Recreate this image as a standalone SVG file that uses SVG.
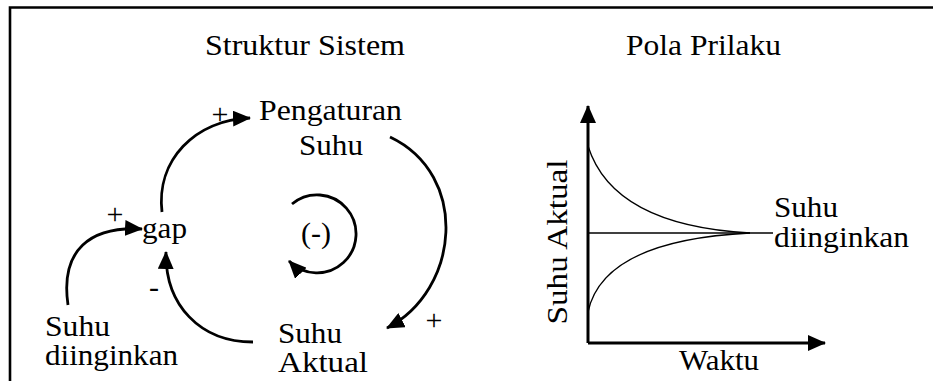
<svg xmlns="http://www.w3.org/2000/svg" width="933" height="381" viewBox="0 0 933 381" font-family="'Liberation Serif', 'DejaVu Serif', serif">
<style>
text{font-family:'Liberation Serif','DejaVu Serif',serif;font-size:30px;fill:#000}
.c{text-anchor:middle}
.arc{fill:none;stroke:#000;stroke-width:2.8}
.thin{fill:none;stroke:#000;stroke-width:1.3}
.axis{fill:none;stroke:#000;stroke-width:3}
</style>
<defs>
<marker id="ah" markerUnits="userSpaceOnUse" markerWidth="18" markerHeight="16" refX="17" refY="8" orient="auto">
<path d="M0,0 L18,8 L0,16 z" fill="#000"/>
</marker>
<marker id="ax" markerUnits="userSpaceOnUse" markerWidth="18" markerHeight="16" refX="17" refY="8" orient="auto">
<path d="M0,0 L18,8 L0,16 z" fill="#000"/>
</marker>
</defs>
<rect width="933" height="381" fill="#fff"/>
<path d="M10,381 V7.5 H933" fill="none" stroke="#000" stroke-width="2.6"/>
<text x="205" y="55" textLength="200" lengthAdjust="spacingAndGlyphs">Struktur Sistem</text>
<text x="626" y="55" textLength="155" lengthAdjust="spacingAndGlyphs">Pola Prilaku</text>
<g id="pengaturan-suhu"><text x="259" y="120" textLength="143" lengthAdjust="spacingAndGlyphs">Pengaturan</text><text x="299" y="155" textLength="64" lengthAdjust="spacingAndGlyphs">Suhu</text></g>
<g id="gap"><text x="142" y="238" textLength="45" lengthAdjust="spacingAndGlyphs">gap</text></g>
<g id="suhu-aktual"><text x="278" y="343" textLength="64" lengthAdjust="spacingAndGlyphs">Suhu</text><text x="278" y="372" textLength="90" lengthAdjust="spacingAndGlyphs">Aktual</text></g>
<g id="suhu-diinginkan"><text x="45" y="336" textLength="65" lengthAdjust="spacingAndGlyphs">Suhu</text><text x="45" y="365" textLength="133" lengthAdjust="spacingAndGlyphs">diinginkan</text></g>
<g id="loop"><text class="c" x="316" y="243">(-)</text></g>
<g id="connectors">
<path class="arc" d="M162,212 C156,160 195,120 250,118" marker-end="url(#ah)"/>
<path class="arc" d="M390,137 C470,175 460,290 387,328" marker-end="url(#ah)"/>
<path class="arc" d="M253,342 C200,342 165,305 166,252" marker-end="url(#ah)"/>
<path class="arc" d="M68,305 C60,250 90,226 142,229" marker-end="url(#ah)"/>
<path class="arc" d="M292,204 A39,39 0 1 1 289,261" marker-end="url(#ah)"/>
</g>
<g id="polarities">
<text class="c" x="220" y="124">+</text>
<text class="c" x="434" y="330">+</text>
<text class="c" x="115" y="224">+</text>
<text class="c" x="154" y="297">-</text>
</g>
<g id="chart">
<path class="axis" d="M588,343 V106" marker-end="url(#ax)"/>
<path class="axis" d="M588,343 H825" marker-end="url(#ax)"/>
<path class="thin" d="M588,146 C605,200 660,228 750,233"/>
<path class="thin" d="M588,312 C598,265 650,238 750,233"/>
<path class="thin" d="M588,233 H773"/>
<text x="774" y="217" textLength="64" lengthAdjust="spacingAndGlyphs">Suhu</text>
<text x="774" y="247" textLength="135" lengthAdjust="spacingAndGlyphs">diinginkan</text>
<text x="679" y="370" textLength="80" lengthAdjust="spacingAndGlyphs">Waktu</text>
<text class="c" transform="translate(567,242) rotate(-90)" textLength="165" lengthAdjust="spacingAndGlyphs">Suhu Aktual</text>
</g>
</svg>
